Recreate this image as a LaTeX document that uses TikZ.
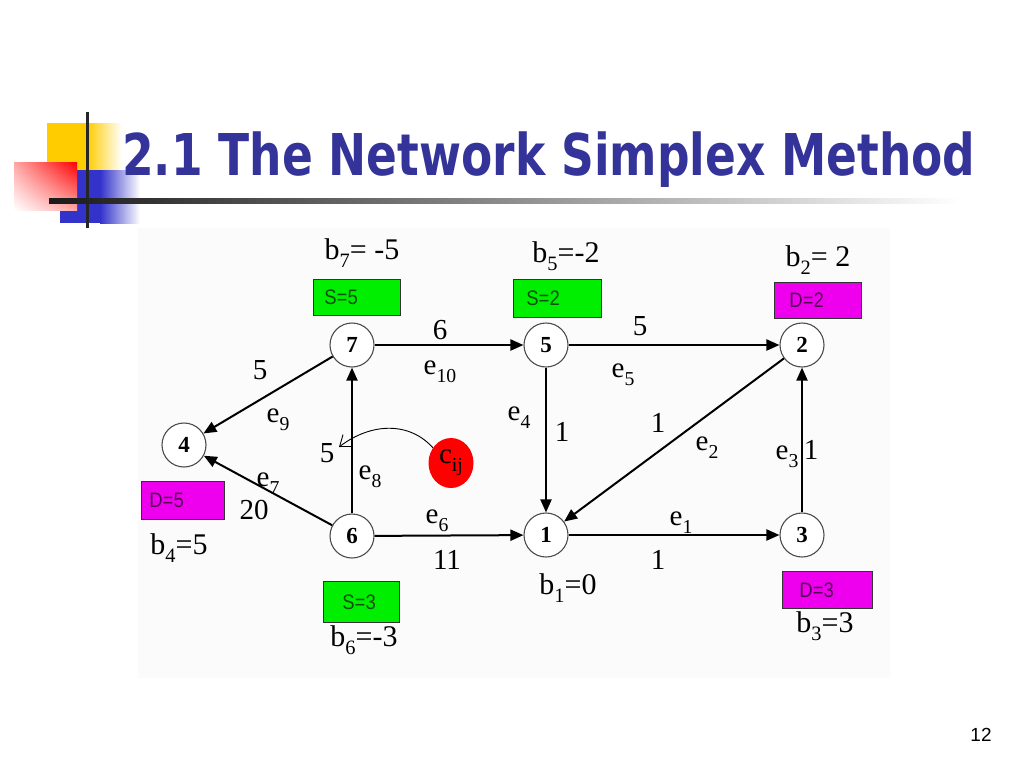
\documentclass[tikz,border=0pt]{standalone}
\usepackage{fontspec}
\setmainfont{Liberation Serif}
\newfontfamily\titlefont{DejaVu Sans}
\newfontfamily\boxfont{Liberation Sans}
\usetikzlibrary{arrows.meta,shapes.geometric,shadings}
\definecolor{titleblue}{RGB}{51,51,153}
\definecolor{decoyellow}{RGB}{255,204,0}
\definecolor{decoblue}{RGB}{51,51,204}
\definecolor{boxgreen}{RGB}{0,238,0}
\definecolor{boxmagenta}{RGB}{238,0,238}
\definecolor{sgreentext}{RGB}{10,80,10}
\definecolor{dmagtext}{RGB}{85,0,85}
\definecolor{bgpanel}{RGB}{251,251,251}
\newcommand\lsub[1]{\raisebox{-0.28em}{\scalebox{0.68}{#1}}}
\begin{document}
\begin{tikzpicture}[x=1pt,y=-1pt,
  vertex/.style={circle,draw=black!70,line width=1.1pt,fill=white,minimum size=44pt,inner sep=0pt,
    font=\fontsize{23}{23}\selectfont\bfseries},
  arc/.style={line width=2pt,-{Triangle[length=13pt,width=11pt]}},
  lab/.style={inner sep=0pt,font=\fontsize{29}{30}\selectfont},
  blab/.style={inner sep=0pt,font=\fontsize{30}{32}\selectfont},
  sbox/.style={rectangle,draw=black!80,line width=0.8pt,fill=boxgreen,text=sgreentext,
    anchor=north west,inner ysep=0pt,align=left,font=\boxfont\fontsize{21}{22}\selectfont},
  dbox/.style={rectangle,draw=black!80,line width=0.8pt,fill=boxmagenta,text=dmagtext,
    anchor=north west,inner ysep=0pt,align=left,font=\boxfont\fontsize{21}{22}\selectfont}]
\useasboundingbox (0,0) rectangle (1024,768);
\fill[white] (0,0) rectangle (1024,768);
% decoration
\fill[decoyellow] (47,123) rectangle (87,175);
\shade[left color=decoyellow,right color=white] (87,123) rectangle (122,175);
\fill[decoblue] (60,170) rectangle (100,223);
\shade[left color=decoblue,right color=white] (100,170) rectangle (140,223);
\shade[upper left=red!35,upper right=red,lower left=white,lower right=red!35] (14,162) rectangle (77,210);
\draw[line width=3pt,black!85] (87,112) -- (87,228);
\shade[left color=black!90,right color=white] (49,198) rectangle (960,203);
% title
\node[anchor=base west,inner sep=0pt,text=titleblue] (title) at (122,175)
  {\scalebox{0.79}[1]{\titlefont\bfseries\fontsize{57.6}{60}\selectfont 2.1 The Network Simplex Method}};
% panel
\fill[bgpanel] (138,228) rectangle (890,678);
% vertices
\node[vertex] (n7) at (352,345) {7};
\node[vertex] (n5) at (546,345) {5};
\node[vertex] (n2) at (802,345) {2};
\node[vertex] (n4) at (184,445) {4};
\node[vertex] (n6) at (352,536) {6};
\node[vertex] (n1) at (546,535) {1};
\node[vertex] (n3) at (802,535) {3};
% arcs
\draw[arc] (n7) -- (n4);
\draw[arc] (n6) -- (n4);
\draw[arc] (n6) -- (n7);
\draw[arc] (n7) -- (n5);
\draw[arc] (n6) -- (n1);
\draw[arc] (n5) -- (n1);
\draw[arc] (n5) -- (n2);
\draw[arc] (n2) -- (n1);
\draw[arc] (n1) -- (n3);
\draw[arc] (n3) -- (n2);
% boxes
\node[sbox,minimum height=36pt,inner xsep=11pt,text width=65pt] (s7) at (313,279) {\scalebox{0.88}[1]{S=5}};
\node[sbox,minimum height=38pt,inner xsep=13pt,text width=62pt] (s5) at (513,279) {\scalebox{0.88}[1]{S=2}};
\node[dbox,minimum height=36pt,inner xsep=15pt,text width=57pt] (d2) at (774,282) {\scalebox{0.88}[1]{D=2}};
\node[dbox,minimum height=38pt,inner xsep=8pt,text width=67pt] (d4) at (141,481) {\scalebox{0.88}[1]{D=5}};
\node[sbox,minimum height=41pt,inner xsep=19pt,text width=38pt] (s6) at (323,581) {\scalebox{0.88}[1]{S=3}};
\node[dbox,minimum height=37pt,inner xsep=17pt,text width=56pt] (d3) at (782,571) {\scalebox{0.88}[1]{D=3}};
% b labels
\node[blab] (b7) at (362,253) {b\lsub{7}= -5};
\node[blab] (b5) at (566,256) {b\lsub{5}=-2};
\node[blab] (b2) at (818,260) {b\lsub{2}= 2};
\node[blab] (b4) at (179,548) {b\lsub{4}=5};
\node[blab] (b6) at (364,640) {b\lsub{6}=-3};
\node[blab] (b1) at (568,588) {b\lsub{1}=0};
\node[blab] (b3) at (825,626) {b\lsub{3}=3};
% edge labels
\node[lab] (w9) at (260,370) {5};
\node[lab] (e9) at (278,420) {e\lsub{9}};
\node[lab] (w10) at (440,330) {6};
\node[lab] (e10) at (440,372) {e\lsub{10}};
\node[lab] (w5) at (640,326) {5};
\node[lab] (e5) at (623,375) {e\lsub{5}};
\node[lab] (e4) at (519,418) {e\lsub{4}};
\node[lab] (w4) at (562,432) {1};
\node[lab] (w2) at (658,423) {1};
\node[lab] (e2) at (707,448) {e\lsub{2}};
\node[lab] (e3) at (787,457) {e\lsub{3}};
\node[lab] (w3) at (811,450) {1};
\node[lab] (w8) at (327,453) {5};
\node[lab] (e8) at (370,477) {e\lsub{8}};
\node[lab] (e7) at (268,484) {e\lsub{7}};
\node[lab] (w7) at (254,510) {20};
\node[lab] (e6) at (437,521) {e\lsub{6}};
\node[lab] (w6) at (447,560) {11};
\node[lab] (e1) at (681,523) {e\lsub{1}};
\node[lab] (w1) at (658,560) {1};
% c_ij
\node[ellipse,fill=red,text=black,minimum width=45pt,minimum height=50pt,inner sep=0pt,
  font=\fontsize{29}{30}\selectfont] (cij) at (451,463) {c\lsub{ij}};
\coordinate (tip) at (339,447);
\draw[line width=0.9pt,-{Straight Barb[length=10pt,width=15pt]}] (cij.140) .. controls (410,422) and (372,422) .. (tip);
% page number
\node[inner sep=0pt,font=\boxfont\fontsize{19}{20}\selectfont] (pg) at (981,735) {12};
\end{tikzpicture}
\end{document}
